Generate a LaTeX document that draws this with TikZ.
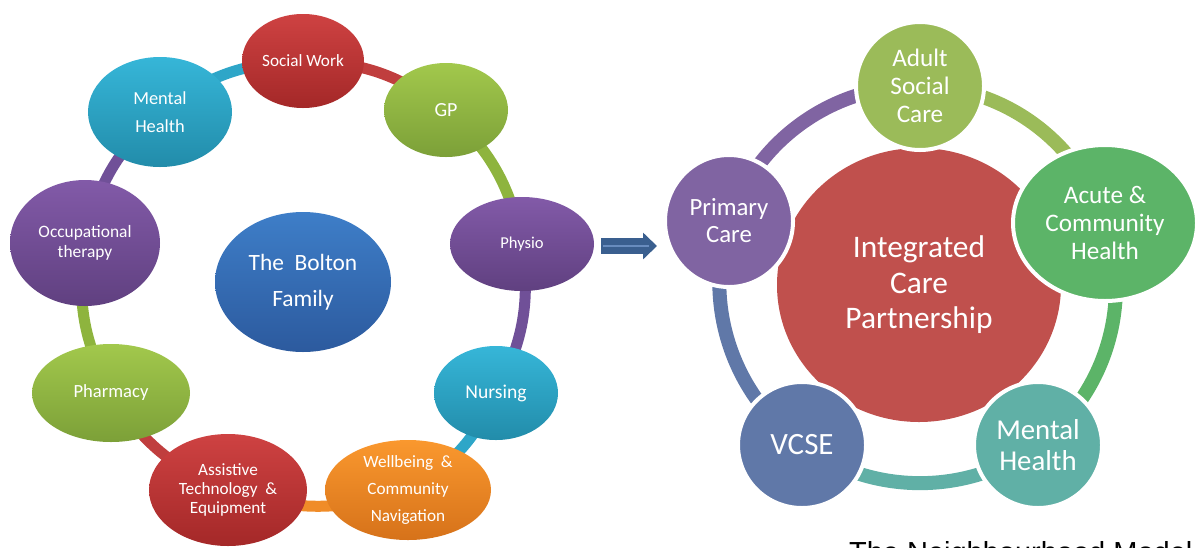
\documentclass[tikz,border=0pt]{standalone}
\usepackage{fontspec}
\setmainfont{Carlito}
\newfontfamily\captionfont{Liberation Sans}
\usepackage{tikz}
\usetikzlibrary{shapes,arrows.meta,backgrounds}

% shaded bubbles (left) and flat members (right)
\definecolor{redtop}{RGB}{206,66,66}    \definecolor{redbot}{RGB}{164,40,40}
\definecolor{greentop}{RGB}{162,200,76} \definecolor{greenbot}{RGB}{124,160,56}
\definecolor{purptop}{RGB}{130,90,168}  \definecolor{purpbot}{RGB}{96,64,128}
\definecolor{cyantop}{RGB}{54,182,216}  \definecolor{cyanbot}{RGB}{34,140,170}
\definecolor{orgtop}{RGB}{250,152,46}   \definecolor{orgbot}{RGB}{214,114,26}
\definecolor{bluetop}{RGB}{62,126,200}  \definecolor{bluebot}{RGB}{44,90,158}
\definecolor{lred}{RGB}{192,62,62}
\definecolor{lgreen}{RGB}{142,180,62}
\definecolor{lpurple}{RGB}{112,80,152}
\definecolor{lcyan}{RGB}{46,166,200}
\definecolor{lorange}{RGB}{240,140,40}
\definecolor{icpred}{RGB}{192,80,77}
\definecolor{ascgreen}{RGB}{155,187,89}
\definecolor{acgreen}{RGB}{92,180,104}
\definecolor{mhteal}{RGB}{96,176,166}
\definecolor{vcseblue}{RGB}{96,120,168}
\definecolor{pcpurple}{RGB}{128,100,162}
\definecolor{arrowblue}{RGB}{58,95,143}
\definecolor{arrowlight}{RGB}{104,140,190}

\tikzstyle{bubble} = [ellipse, inner sep=0pt, text=white, align=center]
\tikzstyle{member} = [ellipse, inner sep=0pt, text=white, align=center, draw=white, line width=2pt]
\tikzstyle{link}   = [line width=5.5pt]
\tikzstyle{ring}   = [line width=7pt, bend left=36, looseness=0.94]
\tikzset{dim/.style 2 args={minimum width=#1pt, minimum height=#2pt},
         fs/.style 2 args={font=\fontsize{#1}{#2}\selectfont},
         sred/.style={top color=redtop, bottom color=redbot},
         sgreen/.style={top color=greentop, bottom color=greenbot},
         spurple/.style={top color=purptop, bottom color=purpbot},
         scyan/.style={top color=cyantop, bottom color=cyanbot},
         sorange/.style={top color=orgtop, bottom color=orgbot},
         sblue/.style={top color=bluetop, bottom color=bluebot}}

\begin{document}
\begin{tikzpicture}[x=0.5pt, y=-0.5pt]

    \useasboundingbox (0,0) rectangle (1198,547);
    \clip (0,0) rectangle (1198,547);

    % the Bolton family ring
    \node[bubble, sred,    dim={61}{47}, fs={8.6}{10}]   (socialwork)   at (303,61)  {Social Work};
    \node[bubble, sgreen,  dim={62}{47}, fs={10}{12}]    (gp)           at (446,110) {GP};
    \node[bubble, spurple, dim={72}{47}, fs={8.3}{10}]   (physio)       at (522,244) {Physio};
    \node[bubble, scyan,   dim={62}{47}, fs={9.8}{12}]   (nursing)      at (496,393) {Nursing};
    \node[bubble, sorange, dim={83}{50}, fs={8.6}{13.3}] (wellbeing)    at (408,490) {Wellbeing~~\&\\Community\\Navigation};
    \node[bubble, sred,    dim={79}{56}, fs={8.6}{9.3}]  (assistive)    at (228,490) {Assistive\\Technology~~\&\\Equipment};
    \node[bubble, sgreen,  dim={79}{49}, fs={9.3}{11}]   (pharmacy)     at (111,393) {Pharmacy};
    \node[bubble, spurple, dim={75}{63}, fs={8.7}{10}]   (occupational) at (85,243)  {Occupational\\therapy};
    \node[bubble, scyan,   dim={72}{55}, fs={9.2}{14}]   (mentalhealth) at (160,112) {Mental\\Health};
    \node[bubble, sblue,   dim={88}{70}, fs={11.7}{18}]  (family)       at (303,282) {The~~Bolton\\Family};

    \begin{scope}[on background layer]
        \draw[link, lred]    (socialwork.center)   to[bend left=18] (gp.center);
        \draw[link, lgreen]  (gp.center)           to[bend left=18] (physio.center);
        \draw[link, lpurple] (physio.center)       to[bend left=18] (nursing.center);
        \draw[link, lcyan]   (nursing.center)      to[bend left=18] (wellbeing.center);
        \draw[link, lorange] (wellbeing.center)    to[bend left=18] (assistive.center);
        \draw[link, lred]    (assistive.center)    to[bend left=18] (pharmacy.center);
        \draw[link, lgreen]  (pharmacy.center)     to[bend left=18] (occupational.center);
        \draw[link, lpurple] (occupational.center) to[bend left=18] (mentalhealth.center);
        \draw[link, lcyan]   (mentalhealth.center) to[bend left=18] (socialwork.center);
    \end{scope}

    % block arrow
    \coordinate (from) at (601,246);
    \coordinate (to)   at (657,246);
    \draw[line width=8pt, arrowblue, -{Triangle[length=7pt, width=13pt]}] (from) -- (to);
    \draw[line width=0.9pt, arrowlight] ([xshift=1pt]from) -- ([xshift=-4pt]to);

    % the partnership
    \node[ellipse, inner sep=0pt, fill=icpred, text=white, align=center, dim={142}{137}, fs={15.7}{17.8}]
        (icp) at (919,285) {Integrated\\Care\\Partnership};

    \node[member, fill=ascgreen, dim={64}{64}, fs={12.6}{14}]   (adult)   at (920,86)   {Adult\\Social\\Care};
    \node[member, fill=acgreen,  dim={92}{78}, fs={12.6}{14}]   (acute)   at (1105,223) {Acute \&\\Community\\Health};
    \node[member, fill=mhteal,   dim={64}{63}, fs={14.4}{15.5}] (mental)  at (1038,445) {Mental\\Health};
    \node[member, fill=vcseblue, dim={64}{63}, fs={15.5}{17}]   (vcse)    at (802,445)  {VCSE};
    \node[member, fill=pcpurple, dim={64}{66}, fs={12.4}{13.5}] (primary) at (729,221)  {Primary\\Care};

    \begin{scope}[on background layer]
        \draw[ring, pcpurple] (primary.center) to (adult.center);
        \draw[ring, ascgreen] (adult.center)   to (acute.center);
        \draw[ring, acgreen]  (acute.center)   to (mental.center);
        \draw[ring, mhteal]   (mental.center)  to (vcse.center);
        \draw[ring, vcseblue] (vcse.center)    to (primary.center);
    \end{scope}

    \node[anchor=base west, font=\captionfont\fontsize{14.5}{17}\selectfont] (caption) at (842,562) {The Neighbourhood Model};

\end{tikzpicture}
\end{document}
